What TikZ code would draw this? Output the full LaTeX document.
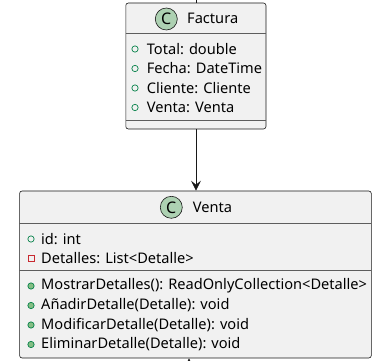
\documentclass[tikz,border=0pt]{standalone}
\usepackage{fontspec}
\setmainfont{Noto Sans}
\usetikzlibrary{arrows.meta,calc}
\definecolor{boxfill}{HTML}{F1F1F1}
\definecolor{boxline}{HTML}{181818}
\definecolor{cfill}{HTML}{ADD1B2}
\definecolor{publine}{HTML}{038048}
\definecolor{pubfill}{HTML}{84BE84}
\definecolor{privline}{HTML}{C82930}
\tikzset{
  classbox/.style={draw=boxline, fill=boxfill, line width=0.6pt, rounded corners=2.5pt, inner sep=0pt},
  sepline/.style={draw=boxline!70, line width=0.6pt},
  cicon/.style={circle, draw=boxline, fill=cfill, line width=0.6pt, minimum size=22pt, inner sep=0pt, font=\fontsize{16}{16}\selectfont\bfseries},
  title/.style={anchor=west, inner sep=0pt, font=\fontsize{14.6}{16}\selectfont},
  member/.style={anchor=west, inner sep=0pt, font=\fontsize{14.6}{16}\selectfont},
  pubattr/.style={circle, draw=publine, line width=0.7pt, minimum size=6.3pt, inner sep=0pt},
  pubmeth/.style={circle, draw=publine, fill=pubfill, line width=0.7pt, minimum size=6.3pt, inner sep=0pt},
  privattr/.style={rectangle, draw=privline, line width=0.7pt, minimum size=6pt, inner sep=0pt},
  conn/.style={draw=boxline, line width=0.7pt},
  tipstyle/.style={-{Stealth[length=10pt,width=10pt,inset=4pt]}}
}
\begin{document}
\begin{tikzpicture}[x=1pt,y=-1pt]
\useasboundingbox (0,0) rectangle (392,361);
\clip (0,0) rectangle (392,361);
% Factura
\node[classbox, minimum width=140.2pt, minimum height=126pt, anchor=north west] (factura) at (125.5,2.7) {};
\draw[sepline] (125.5,33.5) -- (265.7,33.5);
\draw[sepline] (125.5,120) -- (265.7,120);
\node[cicon] (fc) at (166.3,19) {C};
\node[title] (ft) at (187,18.5) {Factura};
\node[pubattr] (fi1) at (135,49) {};
\node[member] (fa1) at (146.7,49) {Total: double};
\node[pubattr] (fi2) at (135,68.5) {};
\node[member] (fa2) at (146.7,68.5) {Fecha: DateTime};
\node[pubattr] (fi3) at (135,88) {};
\node[member] (fa3) at (146.7,88) {Cliente: Cliente};
\node[pubattr] (fi4) at (135,107.5) {};
\node[member] (fa4) at (146.7,107.5) {Venta: Venta};
% Venta
\node[classbox, minimum width=351.7pt, minimum height=167pt, anchor=north west] (venta) at (19.3,190.7) {};
\draw[sepline] (19.3,223.3) -- (371,223.3);
\draw[sepline] (19.3,270) -- (371,270);
\node[cicon] (vc) at (171.3,207.3) {C};
\node[title] (vt) at (192.7,207) {Venta};
\node[pubattr] (vi1) at (31,239) {};
\node[member] (va1) at (41,239) {id: int};
\node[privattr] (vi2) at (31,258.5) {};
\node[member] (va2) at (41,258.5) {Detalles: List<Detalle>};
\node[pubmeth] (vm1i) at (31,286) {};
\node[member] (vm1) at (41,286) {MostrarDetalles(): ReadOnlyCollection<Detalle>};
\node[pubmeth] (vm2i) at (31,305.5) {};
\node[member] (vm2) at (41,305.5) {AñadirDetalle(Detalle): void};
\node[pubmeth] (vm3i) at (31,325) {};
\node[member] (vm3) at (41,325) {ModificarDetalle(Detalle): void};
\node[pubmeth] (vm4i) at (31,344.5) {};
\node[member] (vm4) at (41,344.5) {EliminarDetalle(Detalle): void};
% connectors
\coordinate (topend) at (196,-10);
\draw[conn] (topend) -- (factura.north -| topend);
\draw[conn, tipstyle] (factura.south -| topend) -- (venta.north -| topend);
\coordinate (botend) at (189,380);
\draw[conn, tipstyle] (botend) -- (venta.south -| botend);
\end{tikzpicture}
\end{document}
